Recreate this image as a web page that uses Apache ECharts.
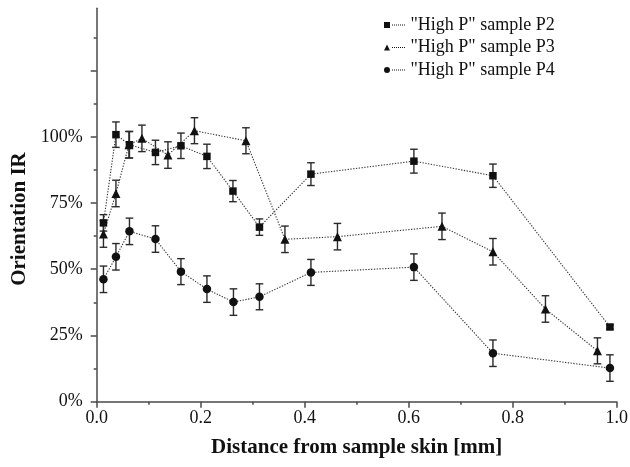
<!DOCTYPE html>
<html>
<head>
<meta charset="utf-8">
<script src="https://cdn.jsdelivr.net/npm/echarts@6/dist/echarts.min.js"></script>
<style>
html,body{margin:0;padding:0;background:#fff;}
#chart{width:630px;height:467px;}
</style>
</head>
<body>
<div id="chart"></div>
<script>
// ---- data ----
const seriesNames = ['"High P" sample P2', '"High P" sample P3', '"High P" sample P4'];

const p2X = [0.013, 0.037, 0.063, 0.113, 0.162, 0.212, 0.262, 0.313, 0.412, 0.610, 0.762, 0.987];
const p2Y = [0.675, 1.008, 0.970, 0.941, 0.966, 0.926, 0.795, 0.659, 0.859, 0.908, 0.853, 0.282];
const p2E = [0.031, 0.048, 0.050, 0.046, 0.048, 0.046, 0.040, 0.031, 0.043, 0.045, 0.044, 0.008];

const p3X = [0.013, 0.037, 0.062, 0.087, 0.137, 0.188, 0.287, 0.362, 0.463, 0.664, 0.762, 0.863, 0.963];
const p3Y = [0.633, 0.786, 0.970, 0.994, 0.931, 1.023, 0.985, 0.613, 0.623, 0.662, 0.566, 0.350, 0.192];
const p3E = [0.050, 0.050, 0.050, 0.050, 0.050, 0.049, 0.049, 0.050, 0.050, 0.050, 0.050, 0.050, 0.049];

const p4X = [0.013, 0.037, 0.063, 0.113, 0.162, 0.212, 0.263, 0.313, 0.412, 0.610, 0.762, 0.987];
const p4Y = [0.462, 0.547, 0.643, 0.614, 0.491, 0.425, 0.376, 0.396, 0.488, 0.508, 0.183, 0.127];
const p4E = [0.050, 0.050, 0.050, 0.050, 0.049, 0.050, 0.050, 0.049, 0.049, 0.050, 0.050, 0.050];

const xTickLabels = [0, 0.2, 0.4, 0.6, 0.8, 1.0];
const yTickLabels = [0, 0.25, 0.5, 0.75, 1.0];
const yMajorTicks = [0, 0.25, 0.5, 0.75, 1.0, 1.25];
const yMinorTicks = [0.125, 0.375, 0.625, 0.875, 1.125, 1.375];

// ---- build ----
function pairs(xs, ys) { return xs.map((x, i) => [x, ys[i]]); }
function triples(xs, ys, es) { return xs.map((x, i) => [x, ys[i], es[i]]); }

const AX = '#4a4a4a';
const FONT = '"Liberation Serif", "Times New Roman", serif';

let dots = '';
for (let x = 8; x < 22; x += 2) dots += 'M' + x + ',2.5h1v1h-1z';
const legendIcons = [
  'path://M0,0h6v6h-6z' + dots,
  'path://M3,0L6,6L0,6Z' + dots,
  'path://M0,3A3,3,0,1,1,6,3A3,3,0,1,1,0,3Z' + dots
];

function errRender(params, api) {
  const x = api.value(0), y = api.value(1), e = api.value(2);
  const t = api.coord([x, y + e]);
  const b = api.coord([x, y - e]);
  const w = 3.8;
  const st = { stroke: '#2a2a2a', lineWidth: 1.4 };
  return {
    type: 'group',
    children: [
      { type: 'line', shape: { x1: t[0], y1: t[1], x2: b[0], y2: b[1] }, style: st },
      { type: 'line', shape: { x1: t[0] - w, y1: t[1], x2: t[0] + w, y2: t[1] }, style: st },
      { type: 'line', shape: { x1: b[0] - w, y1: b[1], x2: b[0] + w, y2: b[1] }, style: st }
    ]
  };
}

const symbols = ['rect', 'triangle', 'circle'];
const symSizes = [7.5, 9, 8.5];
const lineData = [pairs(p2X, p2Y), pairs(p3X, p3Y), pairs(p4X, p4Y)];
const errData = [triples(p2X, p2Y, p2E), triples(p3X, p3Y, p3E), triples(p4X, p4Y, p4E)];

const series = [];
for (let i = 0; i < 3; i++) {
  series.push({
    type: 'custom',
    name: seriesNames[i] + ' err',
    renderItem: errRender,
    data: errData[i],
    z: 2,
    silent: true
  });
}
for (let i = 0; i < 3; i++) {
  series.push({
    type: 'line',
    name: seriesNames[i],
    data: lineData[i],
    symbol: symbols[i],
    symbolSize: symSizes[i],
    showAllSymbol: true,
    itemStyle: { color: '#111' },
    lineStyle: { color: '#333', width: 1.1, type: [1.3, 1.5] },
    z: 3,
    animation: false
  });
}

const chart = echarts.init(document.getElementById('chart'), null, { renderer: 'canvas' });
chart.setOption({
  animation: false,
  backgroundColor: '#fff',
  grid: { left: 96.7, right: 13.3, top: 8.3, bottom: 65.3, containLabel: false, outerBoundsMode: 'none' },
  legend: {
    orient: 'vertical',
    left: 379,
    top: 11,
    itemWidth: 22,
    itemHeight: 6,
    itemGap: 4.5,
    itemStyle: { borderWidth: 0 },
    textStyle: { fontFamily: FONT, fontSize: 18, color: '#111', lineHeight: 18 },
    data: seriesNames.map((n, i) => ({ name: n, icon: legendIcons[i] }))
  },
  xAxis: {
    type: 'value',
    min: 0, max: 1, interval: 0.2,
    name: 'Distance from sample skin [mm]',
    nameLocation: 'middle',
    nameGap: 35,
    nameTextStyle: { fontFamily: FONT, fontSize: 21, fontWeight: 'bold', color: '#111' },
    axisLine: { show: true, onZero: false, lineStyle: { color: AX, width: 1.5 } },
    axisTick: { show: true, inside: false, length: 6, lineStyle: { color: AX, width: 1.5 } },
    minorTick: { show: true, splitNumber: 2, length: 3, lineStyle: { color: AX, width: 1.5 } },
    axisLabel: {
      margin: 8,
      fontFamily: FONT, fontSize: 18, color: '#111',
      customValues: xTickLabels,
      formatter: v => v.toFixed(1)
    },
    splitLine: { show: false },
    minorSplitLine: { show: false }
  },
  yAxis: [
    {
      type: 'value',
      min: 0, max: 1.485, interval: 0.25,
      position: 'left',
      name: 'Orientation IR',
      nameLocation: 'middle',
      nameGap: 64,
      nameRotate: 90,
      nameTextStyle: { fontFamily: FONT, fontSize: 21, fontWeight: 'bold', color: '#111', padding: [0, 28, 0, 0] },
      axisLine: { show: true, onZero: false, lineStyle: { color: AX, width: 1.5 } },
      axisTick: { show: true, inside: false, length: 6, customValues: yMajorTicks, lineStyle: { color: AX, width: 1.5 } },
      axisLabel: {
        margin: 14,
        fontFamily: FONT, fontSize: 18, color: '#111',
        customValues: yTickLabels,
        formatter: v => Math.round(v * 100) + '%'
      },
      splitLine: { show: false }
    },
    {
      type: 'value',
      min: 0, max: 1.485, interval: 0.25,
      position: 'left',
      offset: 0,
      axisLine: { show: false },
      axisTick: { show: true, inside: false, length: 3, customValues: yMinorTicks, lineStyle: { color: AX, width: 1.5 } },
      axisLabel: { show: false },
      splitLine: { show: false }
    }
  ],
  series: series
});
</script>
</body>
</html>
